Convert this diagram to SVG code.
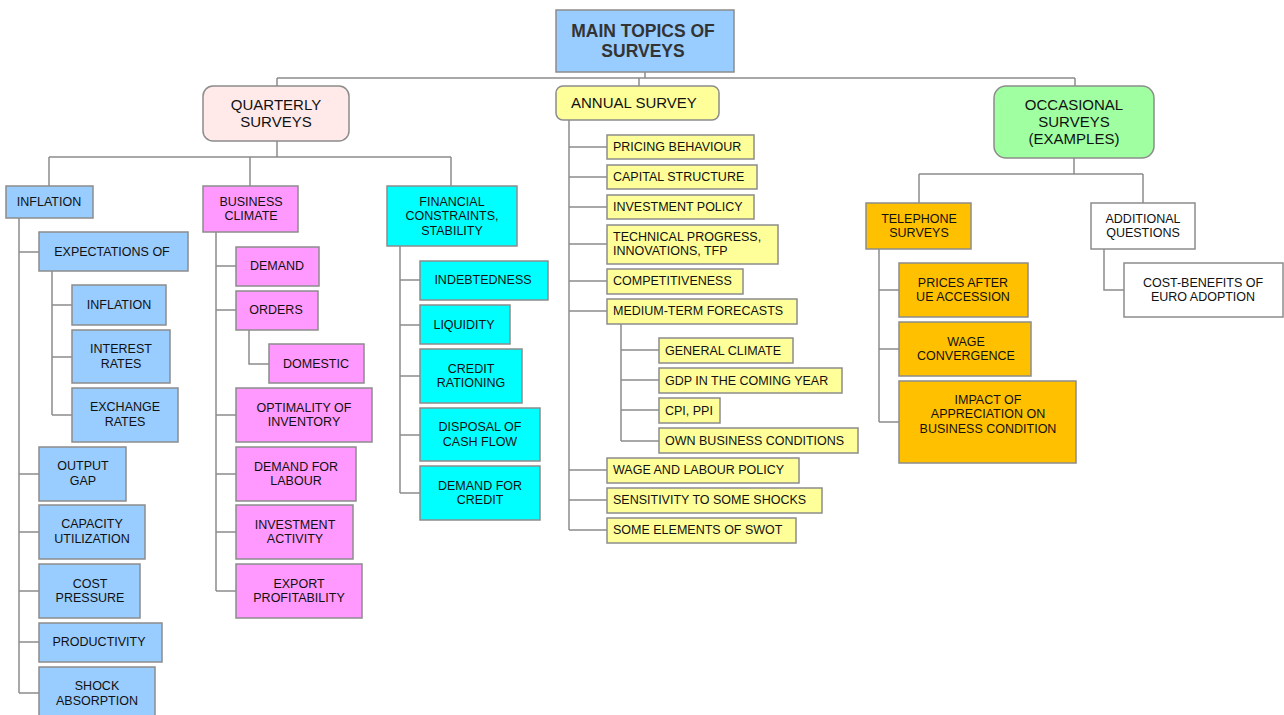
<svg xmlns="http://www.w3.org/2000/svg" width="1284" height="715" viewBox="0 0 1284 715">
<style>
text{font-family:"Liberation Sans",Arial,sans-serif;font-size:12.5px;fill:#111;text-anchor:middle}
.l{text-anchor:start}
.big{font-size:15px}
.title{font-size:17.5px;font-weight:bold;fill:#333}
rect{stroke:#8c8c8c;stroke-width:1.5}
rect.bg{stroke:none;fill:#fff}
.blue{fill:#99ccff}.pink{fill:#ff99ff}.cyan{fill:#00ffff}.yel{fill:#ffff99}.org{fill:#ffc000}.wht{fill:#ffffff}
.qs{fill:#ffe9e9}.grn{fill:#a0ffa0}
#connectors path{fill:none;stroke:#8c8c8c;stroke-width:1.5}
</style>
<rect class="bg" width="1284" height="715"/>
<g id="connectors">
<path d="M645 72V78M277 78H1075M277 78V86M639 78V86M1075 78V86"/>
<path d="M277 141V157M49 157H451M49 157V186M250 157V186M451 157V186"/>
<path d="M19 218V693M19 252H39M19 474H39M19 532H39M19 591H39M19 642H39M19 693H39"/>
<path d="M52 271V415M52 305H72M52 357H72M52 415H72"/>
<path d="M216 232V591M216 266H236M216 310H236M216 415H236M216 474H236M216 532H236M216 591H236"/>
<path d="M249 330V364H269"/>
<path d="M400 246V493M400 280H420M400 325H420M400 376H420M400 435H420M400 493H420"/>
<path d="M569 120V530M569 147H607M569 177H607M569 207H607M569 244H607M569 281H607M569 311H607M569 470H607M569 500H607M569 530H607"/>
<path d="M621 324V441M621 350H659M621 380H659M621 410H659M621 441H659"/>
<path d="M1074 158V174M919 174H1143M919 174V203M1143 174V203"/>
<path d="M879 249V422M879 290H899M879 349H899M879 422H899"/>
<path d="M1104 249V290H1124"/>
</g>
<g id="main"><rect class="blue" x="556" y="10" width="178" height="62"/><text class="title" x="643" y="37">MAIN TOPICS OF</text><text class="title" x="643" y="57">SURVEYS</text></g>
<g id="quarterly"><rect class="qs" x="203" y="86" width="146" height="55" rx="10"/><text class="big" x="276" y="110">QUARTERLY</text><text class="big" x="276" y="127">SURVEYS</text></g>
<g id="annual"><rect class="yel" x="556" y="86" width="163" height="34" rx="7"/><text class="big l" x="571" y="108">ANNUAL SURVEY</text></g>
<g id="occasional"><rect class="grn" x="994" y="86" width="160" height="72" rx="12"/><text class="big" x="1074" y="110">OCCASIONAL</text><text class="big" x="1074" y="127">SURVEYS</text><text class="big" x="1074" y="144">(EXAMPLES)</text></g>

<g id="inflation"><rect class="blue" x="6" y="186" width="87" height="32"/><text x="49" y="206">INFLATION</text></g>
<g id="expectations"><rect class="blue" x="39" y="232" width="149" height="39"/><text x="112" y="256">EXPECTATIONS OF</text></g>
<g id="exp-inflation"><rect class="blue" x="72" y="285" width="94" height="40"/><text x="119" y="309">INFLATION</text></g>
<g id="exp-interest"><rect class="blue" x="72" y="330" width="98" height="53"/><text x="121" y="353">INTEREST</text><text x="121" y="368">RATES</text></g>
<g id="exp-exchange"><rect class="blue" x="72" y="388" width="106" height="54"/><text x="125" y="411">EXCHANGE</text><text x="125" y="426">RATES</text></g>
<g id="output-gap"><rect class="blue" x="39" y="447" width="87" height="54"/><text x="83" y="470">OUTPUT</text><text x="83" y="485">GAP</text></g>
<g id="capacity"><rect class="blue" x="39" y="505" width="106" height="54"/><text x="92" y="528">CAPACITY</text><text x="92" y="543">UTILIZATION</text></g>
<g id="cost"><rect class="blue" x="39" y="564" width="101" height="54"/><text x="90" y="588">COST</text><text x="90" y="602">PRESSURE</text></g>
<g id="productivity"><rect class="blue" x="39" y="623" width="123" height="39"/><text x="99" y="646">PRODUCTIVITY</text></g>
<g id="shock"><rect class="blue" x="39" y="667" width="116" height="54"/><text x="97" y="690">SHOCK</text><text x="97" y="705">ABSORPTION</text></g>

<g id="business"><rect class="pink" x="203" y="186" width="95" height="46"/><text x="251" y="206">BUSINESS</text><text x="251" y="220">CLIMATE</text></g>
<g id="demand"><rect class="pink" x="236" y="247" width="83" height="39"/><text x="277" y="270">DEMAND</text></g>
<g id="orders"><rect class="pink" x="236" y="291" width="82" height="39"/><text x="276" y="314">ORDERS</text></g>
<g id="domestic"><rect class="pink" x="269" y="344" width="95" height="39"/><text x="316" y="368">DOMESTIC</text></g>
<g id="optimality"><rect class="pink" x="236" y="388" width="136" height="54"/><text x="304" y="412">OPTIMALITY  OF</text><text x="304" y="426">INVENTORY</text></g>
<g id="labour"><rect class="pink" x="236" y="447" width="120" height="54"/><text x="296" y="471">DEMAND  FOR</text><text x="296" y="485">LABOUR</text></g>
<g id="investment"><rect class="pink" x="236" y="505" width="117" height="54"/><text x="295" y="529">INVESTMENT</text><text x="295" y="543">ACTIVITY</text></g>
<g id="export"><rect class="pink" x="236" y="564" width="126" height="54"/><text x="299" y="588">EXPORT</text><text x="299" y="602">PROFITABILITY</text></g>

<g id="financial"><rect class="cyan" x="387" y="186" width="130" height="60"/><text x="452" y="206">FINANCIAL</text><text x="452" y="220">CONSTRAINTS,</text><text x="452" y="235">STABILITY</text></g>
<g id="indebtedness"><rect class="cyan" x="420" y="261" width="128" height="39"/><text x="483" y="284">INDEBTEDNESS</text></g>
<g id="liquidity"><rect class="cyan" x="420" y="305" width="90" height="39"/><text x="464" y="329">LIQUIDITY</text></g>
<g id="rationing"><rect class="cyan" x="420" y="349" width="102" height="54"/><text x="471" y="373">CREDIT</text><text x="471" y="387">RATIONING</text></g>
<g id="cashflow"><rect class="cyan" x="420" y="408" width="120" height="53"/><text x="480" y="431">DISPOSAL  OF</text><text x="480" y="446">CASH FLOW</text></g>
<g id="credit"><rect class="cyan" x="420" y="466" width="120" height="54"/><text x="480" y="490">DEMAND  FOR</text><text x="480" y="504">CREDIT</text></g>

<g id="pricing"><rect class="yel" x="607" y="135" width="147" height="24"/><text class="l" x="613" y="151">PRICING BEHAVIOUR</text></g>
<g id="capital"><rect class="yel" x="607" y="165" width="150" height="24"/><text class="l" x="613" y="181">CAPITAL STRUCTURE</text></g>
<g id="invpolicy"><rect class="yel" x="607" y="195" width="147" height="24"/><text class="l" x="613" y="211">INVESTMENT POLICY</text></g>
<g id="technical"><rect class="yel" x="607" y="225" width="171" height="39"/><text class="l" x="613" y="241">TECHNICAL PROGRESS,</text><text class="l" x="613" y="255">INNOVATIONS, TFP</text></g>
<g id="competitiveness"><rect class="yel" x="607" y="269" width="136" height="25"/><text class="l" x="613" y="285">COMPETITIVENESS</text></g>
<g id="medium"><rect class="yel" x="607" y="299" width="190" height="25"/><text class="l" x="613" y="315">MEDIUM-TERM FORECASTS</text></g>
<g id="general"><rect class="yel" x="659" y="338" width="134" height="25"/><text class="l" x="665" y="355">GENERAL CLIMATE</text></g>
<g id="gdp"><rect class="yel" x="659" y="368" width="183" height="25"/><text class="l" x="665" y="385">GDP IN THE COMING YEAR</text></g>
<g id="cpi"><rect class="yel" x="659" y="398" width="61" height="25"/><text class="l" x="665" y="415">CPI, PPI</text></g>
<g id="own"><rect class="yel" x="659" y="428" width="199" height="25"/><text class="l" x="665" y="445">OWN BUSINESS CONDITIONS</text></g>
<g id="wage"><rect class="yel" x="607" y="458" width="192" height="25"/><text class="l" x="613" y="474">WAGE AND LABOUR POLICY</text></g>
<g id="sensitivity"><rect class="yel" x="607" y="488" width="215" height="25"/><text class="l" x="613" y="504">SENSITIVITY TO SOME SHOCKS</text></g>
<g id="swot"><rect class="yel" x="607" y="518" width="189" height="25"/><text class="l" x="613" y="534">SOME ELEMENTS OF SWOT</text></g>

<g id="telephone"><rect class="org" x="866" y="203" width="105" height="46"/><text x="919" y="223">TELEPHONE</text><text x="919" y="237">SURVEYS</text></g>
<g id="additional"><rect class="wht" x="1091" y="203" width="104" height="46"/><text x="1143" y="223">ADDITIONAL</text><text x="1143" y="237">QUESTIONS</text></g>
<g id="prices"><rect class="org" x="899" y="263" width="129" height="54"/><text x="963" y="287">PRICES  AFTER</text><text x="963" y="301">UE ACCESSION</text></g>
<g id="wageconv"><rect class="org" x="899" y="322" width="132" height="54"/><text x="966" y="346">WAGE</text><text x="966" y="360">CONVERGENCE</text></g>
<g id="impact"><rect class="org" x="899" y="381" width="177" height="82"/><text x="988" y="404">IMPACT  OF</text><text x="988" y="418">APPRECIATION ON</text><text x="988" y="433">BUSINESS  CONDITION</text></g>
<g id="costbenefits"><rect class="wht" x="1124" y="263" width="159" height="54"/><text x="1203" y="287">COST-BENEFITS  OF</text><text x="1203" y="301">EURO ADOPTION</text></g>
</svg>
